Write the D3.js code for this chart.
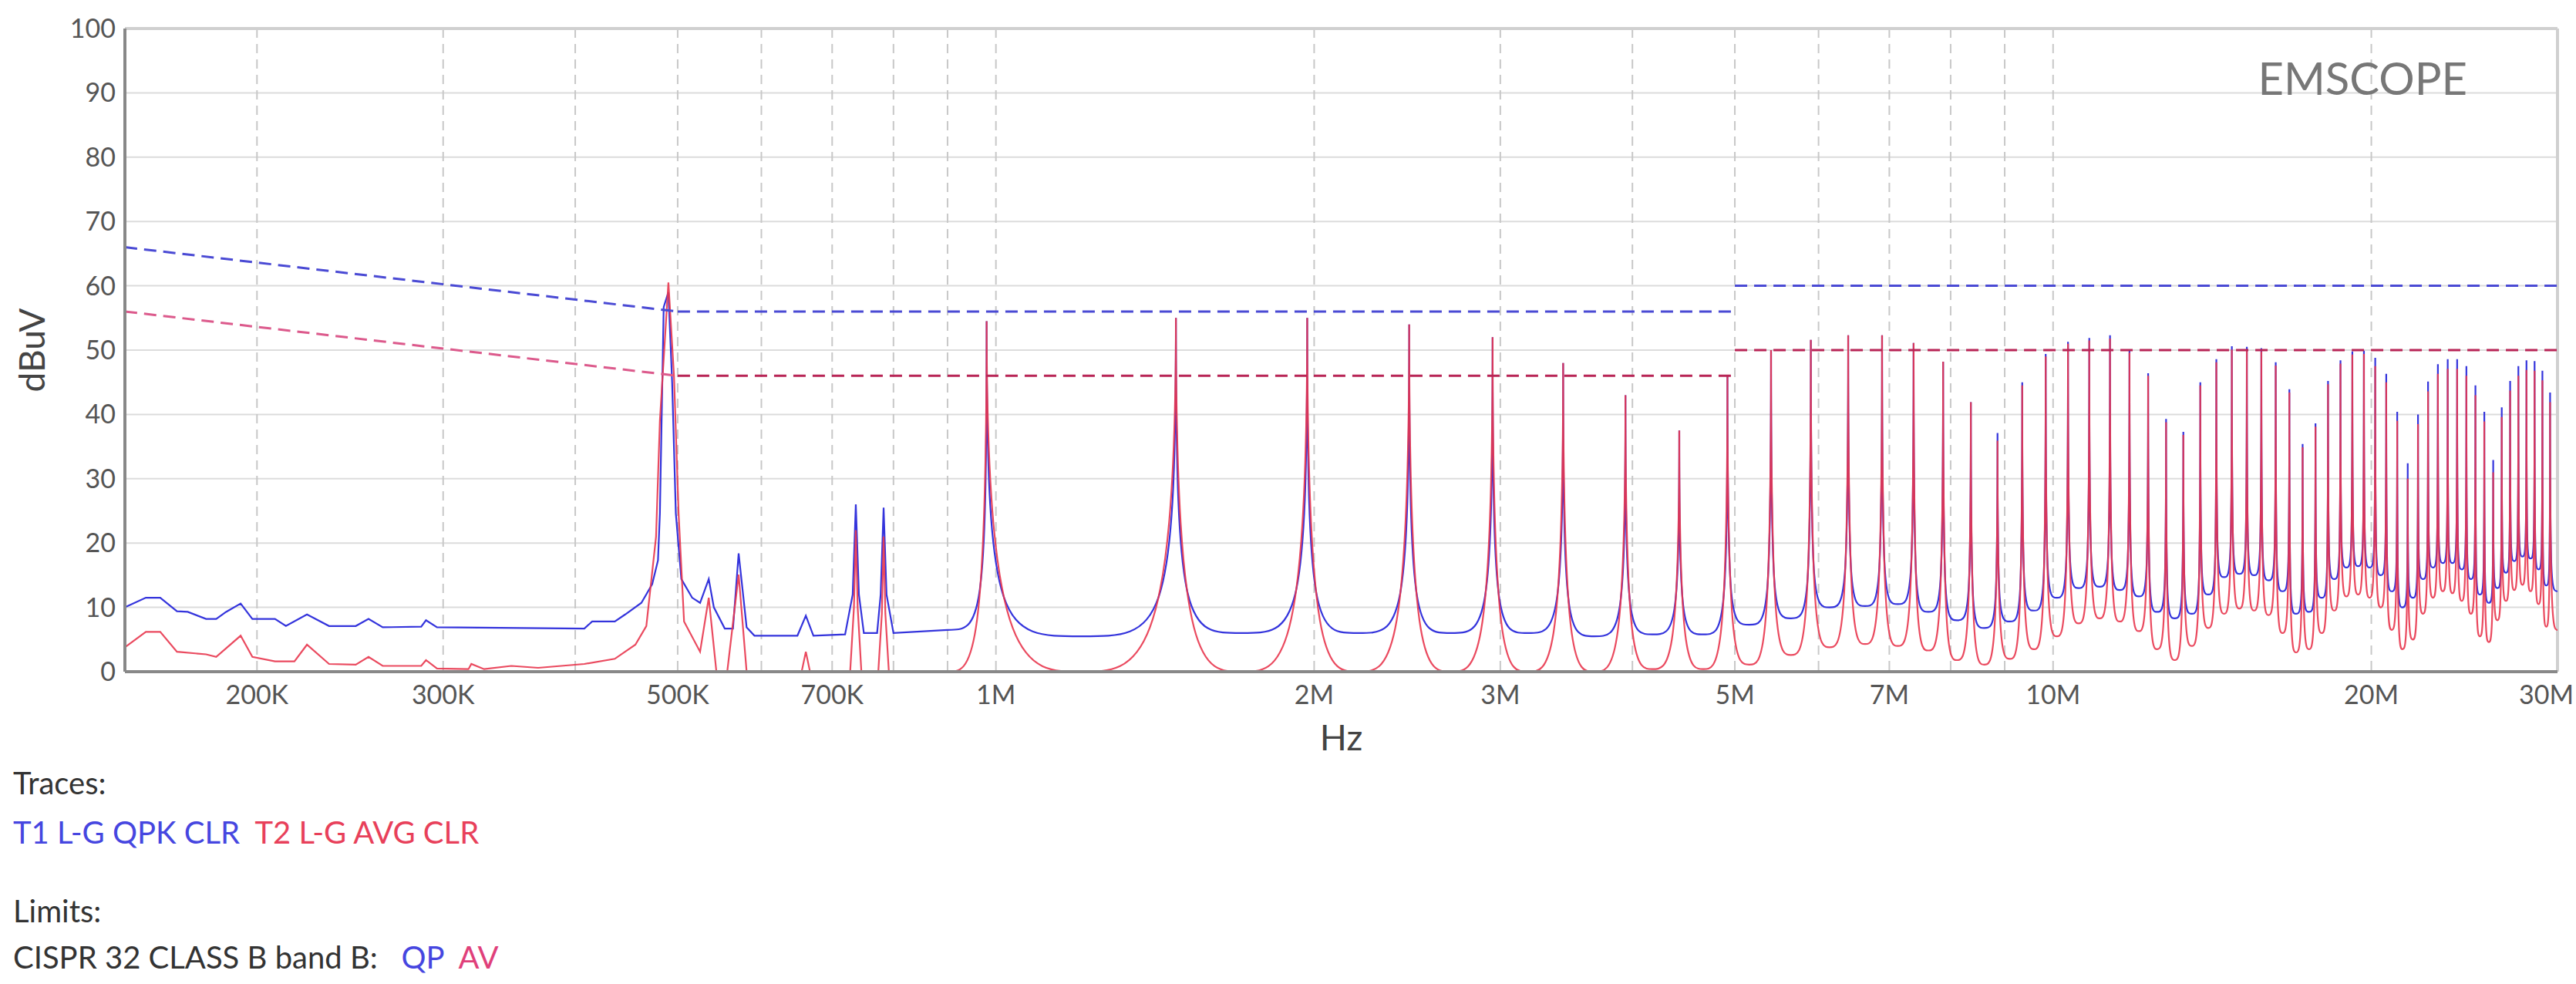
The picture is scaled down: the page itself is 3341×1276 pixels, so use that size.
<!DOCTYPE html>
<html>
<head>
<meta charset="utf-8">
<script src="https://cdn.jsdelivr.net/npm/d3@7"></script>
<style>
  body { margin: 0; background: #fff; }
  svg text { font-family: Lato, "Open Sans", sans-serif; white-space: pre; }
</style>
</head>
<body>
<svg id="canvas" width="3341" height="1276"></svg>
<script>
// tick labels
const xTickLabels = [[200e3, "200K"], [300e3, "300K"], [500e3, "500K"], [700e3, "700K"], [1e6, "1M"], [2e6, "2M"],
  [3e6, "3M"], [5e6, "5M"], [7e6, "7M"], [10e6, "10M"], [20e6, "20M"], [30e6, "30M"]]
const xGrid = [200e3, 300e3, 400e3, 500e3, 600e3, 700e3, 800e3, 900e3, 1e6, 2e6, 3e6, 4e6, 5e6, 6e6, 7e6, 8e6, 9e6, 10e6, 20e6]
const yTicks = [0, 10, 20, 30, 40, 50, 60, 70, 80, 90, 100]

// limits (Hz, dBuV)
const limitQP = [[[150e3, 66], [500e3, 56]], [[500e3, 56], [5e6, 56]], [[5e6, 60], [30e6, 60]]]
const limitAV = [[[150e3, 56], [500e3, 46]], [[500e3, 46], [5e6, 46]], [[5e6, 50], [30e6, 50]]]

// low band points (kHz, dBuV)
const t1Low = [[150, 10], [157, 11.5], [162, 11.5], [168, 9.4], [172, 9.3], [179, 8.2], [183, 8.2], [187, 9.3], [193, 10.6],
  [198, 8.2], [208, 8.2], [213, 7.1], [223, 8.9], [234, 7.1], [248, 7.1], [255, 8.2], [263, 6.9], [286, 7], [289, 8],
  [296, 6.9], [408, 6.7], [415, 7.8], [436, 7.8], [446, 8.9], [462, 10.7], [473, 13.6], [479, 17.3], [481, 24.6],
  [485, 56.7], [490, 59], [494, 45], [498, 24.6], [504, 14.4], [516, 11.5], [525, 10.7], [535, 14.4], [541, 10],
  [554, 6.7], [564, 6.7], [571, 18.4], [581, 6.9], [591, 5.6], [649, 5.6], [661, 8.7], [672, 5.6], [720, 5.8],
  [732, 12], [737, 26], [742, 12], [750, 6], [772, 6], [778, 12], [783, 25.5], [788, 12], [800, 6], [900, 6.5]]
const t2Low = [[150, 3.8], [157, 6.2], [162, 6.2], [168, 3.1], [179, 2.7], [183, 2.3], [193, 5.6], [198, 2.3], [208, 1.6],
  [217, 1.6], [223, 4.2], [234, 1.2], [248, 1.1], [255, 2.3], [263, 0.9], [286, 0.9], [289, 1.8], [296, 0.5], [317, 0.4],
  [319, 1.2], [328, 0.4], [348, 0.9], [369, 0.6], [408, 1.2], [436, 2], [456, 4.2], [467, 7.1], [477, 21], [481, 39],
  [490, 60.5], [496, 46], [501, 24.6], [507, 7.8], [525, 3.1], [535, 11.5], [544, 0], [557, 0], [571, 15.1], [581, 0],
  [655, 0], [661, 3.1], [667, 0], [728, 0], [734, 10], [737, 22], [740, 10], [746, 0], [774, 0], [780, 9], [783, 21],
  [786, 9], [792, 0], [900, 0]]

// harmonics n = 2..60 (MHz)
const harmFreq = [0.98, 1.48, 1.97, 2.46, 2.95, 3.44, 3.94, 4.43, 4.92, 5.41, 5.90, 6.40, 6.89, 7.38, 7.87, 8.36, 8.86,
  9.35, 9.84, 10.33, 10.82, 11.32, 11.81, 12.30, 12.79, 13.28, 13.78, 14.27, 14.76, 15.25, 15.74, 16.24, 16.73, 17.22,
  17.71, 18.20, 18.70, 19.19, 19.68, 20.17, 20.66, 21.16, 21.65, 22.14, 22.63, 23.12, 23.62, 24.11, 24.60, 25.09,
  25.58, 26.08, 26.57, 27.06, 27.55, 28.04, 28.54, 29.03, 29.52]
const t1Peak = [54.5, 55, 55, 54, 52, 48, 43, 37.5, 46, 50, 51.6, 52.3, 52.3, 51.1, 48.2, 41.9, 37.1, 45, 49.4,
  51.3, 51.9, 52.3, 50, 46.4, 39.3, 37.3, 45, 48.6, 50.6, 50.5, 50.3, 48.1, 43.9, 35.4, 38.6, 45.2, 48.4, 49.8, 49.9,
  48.8, 46.3, 40.4, 32.4, 40, 45.1, 47.8, 48.6, 48.6, 47.5, 44.5, 40.4, 32.9, 41.1, 45.2, 47.5, 48.4, 48.3, 46.8, 43.4]
const t2Peak = [54.5, 55, 55, 54, 52, 48, 43, 37.5, 46, 50, 51.6, 52.3, 52.3, 51.1, 48.2, 41.9, 35.9, 44.5, 49,
  51, 51.5, 51.8, 49.6, 46, 38.8, 36.8, 44.5, 48.1, 50.1, 50, 49.8, 47.6, 43.4, 34.9, 38.1, 44.7, 47.9, 49.3, 49.4,
  47.5, 45, 39, 30, 38.5, 43.6, 46.3, 47.1, 47.1, 46, 43, 38.9, 31, 39.6, 43.7, 46, 46.9, 46.8, 45.3, 41.9]
// valley after each harmonic (last = value at 30M)
const t1Valley = [5.5, 6, 6, 6, 6, 5.5, 5.8, 5.8, 7.3, 8.3, 10, 10.2, 10.5, 9.3, 8, 6.8, 7.8, 9.5, 11.5, 13, 13.2,
  12.7, 11.7, 9.3, 8.3, 9, 12, 14.7, 15.2, 15, 14.2, 12.5, 9, 9.3, 11.5, 14.4, 16.2, 16.4, 16.2, 15, 12.5, 10, 11.5,
  14.4, 16.2, 16.9, 16.9, 15.9, 14.4, 12, 10.7, 13, 15.4, 17.2, 17.9, 17.6, 15.9, 13.4, 12.5]
const t2Valley = [0, 0, 0, 0, 0, 0, 0.4, 0.4, 1.1, 2.6, 3.8, 4.3, 4, 3.3, 1.8, 1.1, 2, 3.5, 5.5, 7.5, 8.3, 7.8, 6.3,
  3.5, 1.8, 4, 6.8, 9, 9.8, 9.5, 8.8, 6, 3, 3.5, 6, 9.5, 11.7, 12, 11.5, 10, 6.5, 3.5, 5, 9, 11.5, 12.5, 12.2, 11, 9,
  5.5, 4.6, 8, 11, 12.7, 13.5, 12.5, 10.5, 7, 6.5]

const mLeft = 162, mRight = 3317, mTop = 37, mBottom = 871

const svg = d3.select("#canvas")
const x = d3.scaleLog().domain([150e3, 30e6]).range([mLeft, mRight])
const y = d3.scaleLinear().domain([0, 100]).range([mBottom, mTop])

// grid
svg.selectAll(".hgrid").data(yTicks).enter().append("line")
   .attr("x1", mLeft).attr("x2", mRight)
   .attr("y1", d => y(d)).attr("y2", d => y(d))
   .attr("stroke", "#dcdcdc").attr("stroke-width", 2)
svg.selectAll(".vgrid").data(xGrid).enter().append("line")
   .attr("x1", d => x(d)).attr("x2", d => x(d))
   .attr("y1", mTop).attr("y2", mBottom)
   .attr("stroke", "#c8c8c8").attr("stroke-width", 2).attr("stroke-dasharray", "12,8")

// frame
svg.append("line").attr("x1", mLeft).attr("x2", mRight).attr("y1", mTop).attr("y2", mTop).attr("stroke", "#d0d0d0").attr("stroke-width", 4)
svg.append("line").attr("x1", mRight).attr("x2", mRight).attr("y1", mTop).attr("y2", mBottom).attr("stroke", "#d0d0d0").attr("stroke-width", 4)

// axes labels
svg.selectAll(".ylab").data(yTicks).enter().append("text")
   .attr("x", mLeft - 12).attr("y", d => y(d) + 12)
   .attr("text-anchor", "end").attr("font-size", 34).attr("fill", "#555")
   .text(d => d)
svg.selectAll(".xlab").data(xTickLabels).enter().append("text")
   .attr("x", d => d[0] >= 30e6 ? 3338 : x(d[0])).attr("y", mBottom + 42)
   .attr("text-anchor", d => d[0] >= 30e6 ? "end" : "middle").attr("font-size", 34).attr("fill", "#555")
   .text(d => d[1])
svg.append("text").attr("transform", "translate(58," + ((mTop + mBottom) / 2) + ") rotate(-90)")
   .attr("text-anchor", "middle").attr("font-size", 46).attr("fill", "#444").text("dBuV")
svg.append("text").attr("x", (mLeft + mRight) / 2).attr("y", mBottom + 102)
   .attr("text-anchor", "middle").attr("font-size", 46).attr("fill", "#444").text("Hz")
svg.append("text").attr("x", 3200).attr("y", 123).attr("text-anchor", "end")
   .attr("font-size", 58).attr("fill", "#777").text("EMSCOPE")

// traces
const tracePath = (low, peaks, valleys, sharp) => {
  const p = d3.path()
  const pts = low.map(d => [x(d[0] * 1e3), y(d[1])])
  p.moveTo(pts[0][0], pts[0][1])
  pts.slice(1).forEach(d => p.lineTo(d[0], d[1]))
  let cur = pts[pts.length - 1]
  harmFreq.forEach((f, i) => {
    const px = x(f * 1e6), py = y(peaks[i])
    p.bezierCurveTo(cur[0] + sharp * (px - cur[0]), cur[1], px, cur[1], px, py)
    const nx = i < harmFreq.length - 1 ? x(Math.sqrt(f * harmFreq[i + 1]) * 1e6) : x(30e6)
    const vy = y(valleys[i])
    p.bezierCurveTo(px, vy, px + (1 - sharp) * (nx - px), vy, nx, vy)
    cur = [nx, vy]
  })
  return p.toString()
}
svg.append("path").attr("d", tracePath(t1Low, t1Peak, t1Valley, 0.85))
   .attr("fill", "none").attr("stroke", "#3434dc").attr("stroke-width", 2.2)
svg.append("path").attr("d", tracePath(t2Low, t2Peak, t2Valley, 0.6))
   .attr("fill", "none").attr("stroke", "#e8364e").attr("stroke-width", 2.2).attr("stroke-opacity", 0.9)

// limits
const limLine = d3.line().x(d => x(d[0])).y(d => y(d[1]))
limitQP.forEach(seg => svg.append("path").attr("d", limLine(seg)).attr("fill", "none")
   .attr("stroke", "#4a4ad4").attr("stroke-width", 3).attr("stroke-dasharray", "16,9"))
limitAV.forEach((seg, i) => svg.append("path").attr("d", limLine(seg)).attr("fill", "none")
   .attr("stroke", i == 0 ? "#dc5a8c" : "#b82556").attr("stroke-width", 3).attr("stroke-dasharray", "16,9"))

// axis lines (left, bottom)
svg.append("line").attr("x1", mLeft).attr("x2", mLeft).attr("y1", mTop).attr("y2", mBottom).attr("stroke", "#888").attr("stroke-width", 4)
svg.append("line").attr("x1", mLeft).attr("x2", mRight).attr("y1", mBottom).attr("y2", mBottom).attr("stroke", "#888").attr("stroke-width", 4)

// legend
const legend = svg.append("g").attr("font-size", 40)
legend.append("text").attr("x", 17).attr("y", 1030).attr("fill", "#333").text("Traces:")
const tl = legend.append("text").attr("x", 17).attr("y", 1094)
tl.append("tspan").attr("fill", "#4646e0").text("T1 L-G QPK CLR  ")
tl.append("tspan").attr("fill", "#e8405a").text("T2 L-G AVG CLR")
legend.append("text").attr("x", 17).attr("y", 1196).attr("fill", "#333").text("Limits:")
const ll = legend.append("text").attr("x", 17).attr("y", 1256)
ll.append("tspan").attr("fill", "#333").text("CISPR 32 CLASS B band B:   ")
ll.append("tspan").attr("fill", "#4646e0").text("QP  ")
ll.append("tspan").attr("fill", "#e0407a").text("AV")
</script>
</body>
</html>
